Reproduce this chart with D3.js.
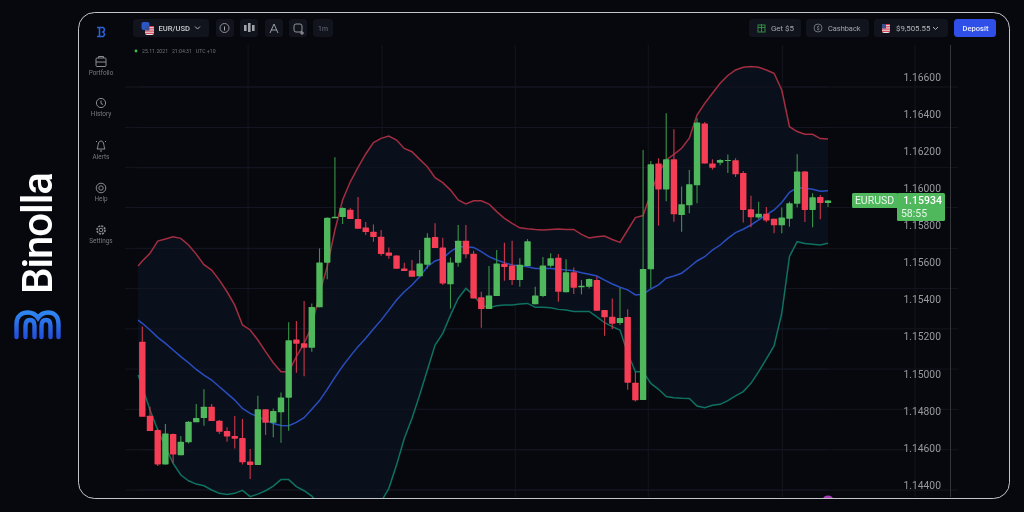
<!DOCTYPE html>
<html><head><meta charset="utf-8">
<script src="https://cdn.jsdelivr.net/npm/d3@7"></script>
<style>html,body{margin:0;padding:0;background:#07080d;overflow:hidden}svg{display:block;filter:blur(0.35px)}text{font-family:Roboto,sans-serif}</style>
</head><body><svg id="c" width="1024" height="512"></svg>
<script>
const opens=[1.15173,1.14774,1.14696,1.14511,1.14675,1.14561,1.14630,1.14738,1.14761,1.14822,1.14747,1.14691,1.14664,1.14653,1.14527,1.14508,1.14808,1.14736,1.14792,1.14871,1.15185,1.15164,1.15140,1.15358,1.15599,1.15838,1.15845,1.15884,1.15834,1.15789,1.15766,1.15739,1.15654,1.15638,1.15568,1.15557,1.15525,1.15588,1.15737,1.15681,1.15482,1.15599,1.15717,1.15647,1.15412,1.15349,1.15419,1.15593,1.15584,1.15505,1.15581,1.15374,1.15419,1.15582,1.15626,1.15440,1.15547,1.15466,1.15469,1.15505,1.15343,1.15307,1.15273,1.15306,1.14952,1.14859,1.15563,1.16133,1.15994,1.16156,1.15856,1.15908,1.16016,1.16349,1.16133,1.16138,1.16149,1.16151,1.16083,1.15887,1.15842,1.15862,1.15835,1.15800,1.15835,1.15917,1.16090,1.15883,1.15953,1.15921];
const closes=[1.14768,1.14691,1.14511,1.14678,1.14565,1.14633,1.14741,1.14761,1.14822,1.14745,1.14687,1.14662,1.14650,1.14522,1.14508,1.14808,1.14736,1.14799,1.14872,1.15180,1.15162,1.15140,1.15360,1.15600,1.15841,1.15847,1.15893,1.15834,1.15782,1.15764,1.15737,1.15645,1.15636,1.15566,1.15554,1.15523,1.15595,1.15733,1.15678,1.15487,1.15600,1.15717,1.15644,1.15406,1.15349,1.15422,1.15595,1.15575,1.15505,1.15588,1.15715,1.15422,1.15584,1.15622,1.15442,1.15547,1.15464,1.15475,1.15511,1.15340,1.15304,1.15270,1.15300,1.14952,1.14857,1.15565,1.16129,1.15994,1.16156,1.15860,1.15914,1.16022,1.16354,1.16133,1.16111,1.16153,1.16153,1.16075,1.15883,1.15844,1.15862,1.15826,1.15800,1.15842,1.15919,1.16090,1.15883,1.15951,1.15921,1.15934];
const highs=[1.15254,1.14822,1.14705,1.14729,1.14678,1.14664,1.14745,1.14837,1.14916,1.14837,1.14750,1.14711,1.14772,1.14756,1.14594,1.14881,1.14808,1.14813,1.14899,1.15277,1.15284,1.15392,1.15379,1.15676,1.15843,1.16167,1.15897,1.15892,1.15953,1.15818,1.15805,1.15775,1.15681,1.15638,1.15599,1.15613,1.15667,1.15757,1.15811,1.15733,1.15627,1.15802,1.15802,1.15663,1.15442,1.15581,1.15667,1.15706,1.15717,1.15622,1.15726,1.15469,1.15629,1.15649,1.15645,1.15617,1.15573,1.15505,1.15514,1.15523,1.15343,1.15406,1.15464,1.15348,1.15011,1.16207,1.16147,1.16162,1.16404,1.16318,1.16009,1.16099,1.16377,1.16358,1.16156,1.16158,1.16182,1.16162,1.16093,1.15960,1.15928,1.15899,1.15835,1.15896,1.15928,1.16183,1.16093,1.15973,1.15964,1.15937];
const lows=[1.14768,1.14691,1.14502,1.14511,1.14517,1.14561,1.14624,1.14738,1.14720,1.14745,1.14675,1.14633,1.14597,1.14511,1.14432,1.14508,1.14669,1.14657,1.14628,1.14693,1.15005,1.14987,1.15119,1.15358,1.15509,1.15838,1.15807,1.15834,1.15782,1.15748,1.15712,1.15636,1.15620,1.15566,1.15554,1.15523,1.15523,1.15568,1.15678,1.15478,1.15352,1.15577,1.15622,1.15406,1.15248,1.15349,1.15419,1.15502,1.15478,1.15469,1.15581,1.15374,1.15412,1.15573,1.15388,1.15440,1.15430,1.15428,1.15460,1.15340,1.15205,1.15241,1.15263,1.14913,1.14850,1.14859,1.15461,1.15799,1.15930,1.15820,1.15766,1.15865,1.15919,1.16133,1.16101,1.16124,1.16083,1.16061,1.15815,1.15790,1.15836,1.15817,1.15757,1.15757,1.15793,1.15896,1.15818,1.15790,1.15833,1.15899];
const bandSlots=[-0.55].concat(d3.range(90));
const bandUpper=[1.15581,1.15608,1.15649,1.15715,1.15726,1.15739,1.15730,1.15694,1.15645,1.15588,1.15559,1.15505,1.15442,1.15370,1.15263,1.15236,1.15182,1.15119,1.15059,1.15011,1.15011,1.15092,1.15164,1.15254,1.15433,1.15577,1.15775,1.15937,1.16035,1.16113,1.16185,1.16246,1.16269,1.16282,1.16260,1.16215,1.16197,1.16156,1.16116,1.16057,1.16030,1.15990,1.15937,1.15915,1.15933,1.15933,1.15915,1.15874,1.15838,1.15811,1.15787,1.15782,1.15778,1.15775,1.15778,1.15780,1.15778,1.15778,1.15751,1.15732,1.15739,1.15742,1.15724,1.15708,1.15775,1.15842,1.15853,1.15973,1.16081,1.16153,1.16183,1.16216,1.16270,1.16395,1.16458,1.16512,1.16566,1.16608,1.16638,1.16652,1.16656,1.16652,1.16638,1.16620,1.16530,1.16332,1.16306,1.16291,1.16291,1.16268,1.16266];
const bandMiddle=[1.15289,1.15272,1.15236,1.15196,1.15164,1.15128,1.15092,1.15059,1.15023,1.14993,1.14966,1.14930,1.14894,1.14858,1.14813,1.14786,1.14768,1.14750,1.14732,1.14721,1.14720,1.14738,1.14763,1.14808,1.14855,1.14916,1.14980,1.15041,1.15095,1.15146,1.15191,1.15241,1.15289,1.15343,1.15397,1.15442,1.15478,1.15523,1.15577,1.15608,1.15622,1.15658,1.15685,1.15685,1.15681,1.15658,1.15631,1.15613,1.15599,1.15586,1.15582,1.15577,1.15568,1.15568,1.15568,1.15563,1.15559,1.15555,1.15545,1.15536,1.15527,1.15505,1.15484,1.15466,1.15452,1.15425,1.15428,1.15457,1.15479,1.15515,1.15527,1.15542,1.15574,1.15608,1.15631,1.15667,1.15694,1.15730,1.15761,1.15779,1.15802,1.15829,1.15856,1.15883,1.15923,1.15978,1.16004,1.16000,1.15995,1.15984,1.15986];
const bandLower=[1.14993,1.14930,1.14804,1.14696,1.14606,1.14517,1.14454,1.14423,1.14405,1.14396,1.14373,1.14355,1.14349,1.14355,1.14371,1.14337,1.14351,1.14369,1.14394,1.14429,1.14429,1.14391,1.14369,1.14340,1.14292,1.14247,1.14211,1.14184,1.14166,1.14166,1.14184,1.14229,1.14310,1.14382,1.14508,1.14651,1.14759,1.14885,1.15020,1.15155,1.15218,1.15316,1.15406,1.15460,1.15424,1.15370,1.15356,1.15367,1.15370,1.15370,1.15376,1.15379,1.15358,1.15358,1.15356,1.15347,1.15343,1.15336,1.15336,1.15336,1.15307,1.15275,1.15254,1.15236,1.15110,1.15011,1.15011,1.14948,1.14916,1.14877,1.14871,1.14868,1.14866,1.14826,1.14817,1.14830,1.14835,1.14855,1.14880,1.14904,1.14948,1.15011,1.15080,1.15150,1.15326,1.15632,1.15712,1.15702,1.15698,1.15694,1.15703];
const priceTicks=[1.166,1.164,1.162,1.160,1.158,1.156,1.154,1.152,1.150,1.148,1.146,1.144];
const gridPrices=[1.14373,1.14590,1.14808,1.15025,1.15242,1.15459,1.15676,1.15896,1.16111,1.16328,1.16546];
const gridSlots=[13.73,31.13,48.4,65.67,83.07,100.3];
const lastPrice=1.15934, symbol="EURUSD", countdown="58:55", stamp="25.11.2021   21:04:31   UTC +10";
const navLabels=["Portfolio","History","Alerts","Help","Settings"];

const svg=d3.select("#c");
const x=d3.scaleLinear().domain([0,89]).range([142.3,828]);
const y=d3.scaleLinear().domain([1.144,1.166]).range([485,77]);
const defs=svg.append("defs");
defs.append("clipPath").attr("id","plot").append("rect").attr("x",80).attr("y",40).attr("width",900).attr("height",458);
const lg=defs.append("linearGradient").attr("id","lg").attr("x1",0).attr("x2",0).attr("y1",0).attr("y2",1);
lg.append("stop").attr("offset",0).attr("stop-color","#2f86f2");lg.append("stop").attr("offset",1).attr("stop-color","#2350dc");

// grid
const plot=svg.append("g").attr("clip-path","url(#plot)");
plot.append("g").selectAll("line").data(gridPrices).join("line")
 .attr("x1",125).attr("x2",958).attr("y1",d=>y(d)).attr("y2",d=>y(d)).attr("stroke","#14161f");
plot.append("g").selectAll("line").data(gridSlots).join("line")
 .attr("x1",d=>x(d)).attr("x2",d=>x(d)).attr("y1",45).attr("y2",497).attr("stroke","#14161f");
// band
plot.append("path").datum(bandSlots.map((s,i)=>[s,bandUpper[i],bandLower[i]]))
 .attr("fill","#0a101b")
 .attr("d",d3.area().x(d=>x(d[0])).y0(d=>y(d[2])).y1(d=>y(d[1])));
plot.selectAll("line.g2").data(gridPrices).join("line").attr("class","g2")
 .attr("x1",138).attr("x2",828).attr("y1",d=>y(d)).attr("y2",d=>y(d)).attr("stroke","#141824").attr("stroke-opacity",.8);
const ln=d3.line().x((d,i)=>x(bandSlots[i])).y(d=>y(d));
[[bandUpper,"#a32d41"],[bandMiddle,"#2a4dc0"],[bandLower,"#0e7161"]].forEach(([s,c])=>
 plot.append("path").datum(s).attr("fill","none").attr("stroke",c).attr("stroke-width",1.5).attr("d",ln));
// candles
const up=i=>closes[i]>=opens[i];
const idx=d3.range(opens.length);
plot.append("g").selectAll("line").data(idx).join("line")
 .attr("x1",x).attr("x2",x).attr("y1",i=>y(highs[i])).attr("y2",i=>y(lows[i]))
 .attr("stroke",i=>up(i)?"#3a9548":"#cc364c").attr("stroke-width",1.1);
plot.append("g").selectAll("rect").data(idx).join("rect")
 .attr("x",i=>x(i)-3.2).attr("width",6.4)
 .attr("y",i=>y(Math.max(opens[i],closes[i])))
 .attr("height",i=>Math.max(1.2,Math.abs(y(opens[i])-y(closes[i]))))
 .attr("rx",.6).attr("fill",i=>up(i)?"#4fb85c":"#f53d55");
// purple marker
plot.append("ellipse").attr("cx",828).attr("cy",499).attr("rx",5).attr("ry",3.5).attr("fill","#a63fb8");

// axis line
svg.append("line").attr("x1",950.5).attr("x2",950.5).attr("y1",45).attr("y2",497).attr("stroke","#33353b");
// price axis
const axis=d3.axisRight(y).tickValues(priceTicks).tickFormat(d3.format(".5f")).tickSize(0).tickPadding(0);
const ag=svg.append("g").attr("transform","translate(903.5,0)").call(axis);
ag.select(".domain").remove();
ag.selectAll("text").attr("fill","#989aa0").attr("font-size",10.3).style("font-family","Roboto,sans-serif");

// price tag
const py=y(lastPrice);
svg.append("rect").attr("x",852).attr("y",py-7.5).attr("width",46).attr("height",15).attr("rx",1.5).attr("fill","#4fb85c");
svg.append("rect").attr("x",897).attr("y",py-7.5).attr("width",48).attr("height",28).attr("rx",1.5).attr("fill","#4fb85c");
svg.append("text").text(symbol).attr("x",874.5).attr("y",py+3.8).attr("text-anchor","middle").attr("fill","#e8f5ea").attr("font-size",10.5);
svg.append("text").text(lastPrice.toFixed(5)).attr("x",922.5).attr("y",py+3.8).attr("text-anchor","middle").attr("fill","#fff").attr("font-size",10.5).attr("font-weight",500);
svg.append("text").text(countdown).attr("x",914).attr("y",py+16.5).attr("text-anchor","middle").attr("fill","#e8f5ea").attr("font-size",10.5);

// frame
svg.append("rect").attr("x",78.5).attr("y",12.5).attr("width",931).attr("height",486).attr("rx",16).attr("fill","none").attr("stroke","#c4c5c8").attr("stroke-width",1);

// top bar
const btn=(x0,x1,fill="#12141d")=>svg.append("rect").attr("x",x0).attr("y",19).attr("width",x1-x0).attr("height",18).attr("rx",3.5).attr("fill",fill);
const lab=(t,xx,yy,fs,c,a="start",w=400)=>svg.append("text").text(t).attr("x",xx).attr("y",yy).attr("font-size",fs).attr("fill",c).attr("text-anchor",a).attr("font-weight",w);
[[133,209],[216,234],[240,258],[265,283],[289,307],[313,333],[749,801],[806,869],[874,948]].forEach(b=>btn(b[0],b[1]));
btn(954,996,"#2f4fe8");
lab("EUR/USD",158.5,31,7.6,"#c9cad0","start",500);
lab("1m",323,31,6.8,"#6e7078","middle");
lab("Get $5",771,31,7.9,"#a4a6ad");
lab("Cashback",828,31,7.4,"#a4a6ad");
lab("$9,505.55",896,31,7.8,"#b4b6bc");
lab("Deposit",975.5,31,7.6,"#e8ecff","middle",500);
const stroke=(d,c="#9a9ca3",w=1)=>svg.append("path").attr("d",d).attr("fill","none").attr("stroke",c).attr("stroke-width",w);
stroke("M195,26.5l2.5,2.5l2.5,-2.5","#b0b2b8");stroke("M933,27l2.5,2.5l2.5,-2.5","#b0b2b8");
// flags
svg.append("rect").attr("x",141.5).attr("y",22).attr("width",8).attr("height",8).attr("rx",2).attr("fill","#2b55c8");
const flag=(fx,fy,fw,fh)=>{svg.append("rect").attr("x",fx).attr("y",fy).attr("width",fw).attr("height",fh).attr("rx",2).attr("fill","#e9e4e6");
 [0,2,4,6].forEach(k=>svg.append("rect").attr("x",fx).attr("y",fy+k*fh/8).attr("width",fw).attr("height",fh/8).attr("fill","#d8344b"));
 svg.append("rect").attr("x",fx).attr("y",fy).attr("width",fw/2).attr("height",fh/2).attr("fill","#37508f");};
flag(145,26,9,9);flag(882,24,8,9);
// toolbar icons
svg.append("circle").attr("cx",224.5).attr("cy",28).attr("r",4.5).attr("fill","none").attr("stroke","#8f9197");
stroke("M224.5,26.5v4","#a8a8ae");
[[245,25,6],[249,23,9],[253,25,6]].forEach(r=>svg.append("rect").attr("x",r[0]-1).attr("y",r[1]).attr("width",2.6).attr("height",r[2]).attr("fill","#a0a2a8"));
stroke("M270,33l4,-9l4,9M271,30h6");
svg.append("rect").attr("x",294).attr("y",24).attr("width",8).attr("height",8).attr("rx",2).attr("fill","none").attr("stroke","#8f9197");
stroke("M302,31v4M300,33h4","#a8a8ae");
svg.append("rect").attr("x",758).attr("y",25).attr("width",7).attr("height",7).attr("fill","none").attr("stroke","#2f8a45");
stroke("M761.5,24v8M758,27.5h7","#2f8a45");
svg.append("circle").attr("cx",818).attr("cy",28).attr("r",4).attr("fill","none").attr("stroke","#6e7078");
lab("$",818,30,5.5,"#8f9197","middle");
// timestamp
svg.append("circle").attr("cx",136).attr("cy",51).attr("r",1.4).attr("fill","#37c24e");
svg.append("text").text(stamp).attr("x",142).attr("y",52.6).attr("font-size",5.2).attr("fill","#707278").style("white-space","pre");

// sidebar
svg.append("path").attr("d","M97,27.5h6a2.5,2.5 0 0 1 0,4.5a2.5,2.5 0 0 1 0,4.5h-6M99.5,27.5v9").attr("fill","none").attr("stroke","#2a63d8").attr("stroke-width",1.6);
const navY=[73,114,157,199,241];
navLabels.forEach((t,i)=>lab(t,101,navY[i]+2,6.4,"#787a81","middle"));
const ic="#8a8c92";
svg.append("rect").attr("x",96).attr("y",58).attr("width",10).attr("height",8.5).attr("rx",1).attr("fill","none").attr("stroke",ic);stroke("M98.5,58v-1.5h5v1.5M96,62h10",ic);
svg.append("circle").attr("cx",101).attr("cy",103).attr("r",4.6).attr("fill","none").attr("stroke",ic);stroke("M101,100.5v3l2,1",ic);
stroke("M97,149c1.5,-2 0.5,-8 4,-8s2.5,6 4,8zM100,151h2M96,142l1,-1M106,142l-1,-1",ic);
svg.append("circle").attr("cx",101).attr("cy",188).attr("r",4.8).attr("fill","none").attr("stroke",ic);
svg.append("circle").attr("cx",101).attr("cy",188).attr("r",2.2).attr("fill","none").attr("stroke",ic);
svg.append("circle").attr("cx",101).attr("cy",230).attr("r",1.8).attr("fill","none").attr("stroke",ic);
svg.append("circle").attr("cx",101).attr("cy",230).attr("r",4).attr("fill","none").attr("stroke",ic).attr("stroke-width",1.6).attr("stroke-dasharray","2.1 1");

// brand
svg.append("text").text("Binolla").attr("transform","translate(51.7,294) rotate(-90)").attr("font-size",42).attr("font-weight",500).attr("fill","#fff").style("font-family","Roboto,sans-serif").attr("textLength",122);
svg.append("path").attr("fill","none").attr("stroke","url(#lg)").attr("stroke-width",4.4).attr("stroke-linecap","round")
 .attr("d","M16.5,337V324C16.5,316 22,312.5 28,312.5C33,312.5 36,315 38,318C40,315 43,312.5 48,312.5C54,312.5 58.5,316 58.5,324V337M25.5,337V326C25.5,321.5 27.5,320 30,320C32.5,320 34.5,321.5 34.5,326V337M41.5,337V326C41.5,321.5 43.5,320 46,320C48.5,320 50.5,321.5 50.5,326V337");
</script></body></html>
